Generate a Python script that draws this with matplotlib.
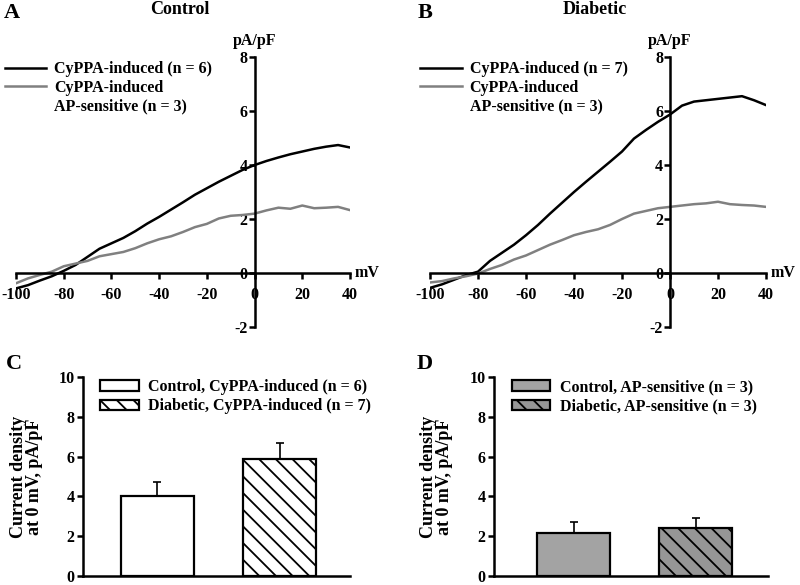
import matplotlib
matplotlib.use("Agg")
import matplotlib.pyplot as plt
from matplotlib.lines import Line2D

plt.rcParams["font.family"] = ["Liberation Serif", "DejaVu Serif"]
plt.rcParams["font.weight"] = "bold"
plt.rcParams["axes.labelweight"] = "bold"
plt.rcParams["axes.unicode_minus"] = False
plt.rcParams["hatch.linewidth"] = 1.3

# -- I-V curves (every 5 mV) --
voltage_mv = [-100, -95, -90, -85, -80, -75, -70, -65, -60, -55, -50, -45, -40, -35, -30,
              -25, -20, -15, -10, -5, 0, 5, 10, 15, 20, 25, 30, 35, 40]

ctrl_cyppa = [-0.57, -0.45, -0.28, -0.12, 0.08, 0.30, 0.60, 0.90, 1.10, 1.30, 1.55, 1.83, 2.08,
              2.35, 2.62, 2.90, 3.14, 3.38, 3.60, 3.82, 4.00, 4.15, 4.28, 4.40, 4.50, 4.60,
              4.68, 4.74, 4.65]
ctrl_ap = [-0.38, -0.20, -0.07, 0.05, 0.25, 0.35, 0.45, 0.62, 0.70, 0.78, 0.92, 1.10, 1.25,
           1.36, 1.52, 1.70, 1.82, 2.02, 2.12, 2.15, 2.20, 2.32, 2.42, 2.38, 2.50, 2.40,
           2.42, 2.45, 2.33]
diab_cyppa = [-0.55, -0.42, -0.25, -0.08, 0.05, 0.45, 0.75, 1.05, 1.40, 1.78, 2.20, 2.60, 3.00,
              3.38, 3.75, 4.12, 4.50, 4.98, 5.30, 5.60, 5.87, 6.20, 6.35, 6.40, 6.45, 6.50,
              6.55, 6.40, 6.22]
diab_ap = [-0.35, -0.30, -0.20, -0.12, -0.02, 0.15, 0.30, 0.50, 0.65, 0.85, 1.05, 1.22, 1.40,
           1.52, 1.62, 1.78, 2.00, 2.20, 2.30, 2.40, 2.45, 2.50, 2.55, 2.58, 2.64, 2.55,
           2.52, 2.50, 2.45]

# -- current density at 0 mV (mean, SEM) --
cyppa_labels = ["Control, CyPPA-induced (n = 6)", "Diabetic, CyPPA-induced (n = 7)"]
cyppa_mean = [4.04, 5.87]
cyppa_sem = [0.67, 0.83]
ap_labels = ["Control, AP-sensitive (n = 3)", "Diabetic, AP-sensitive (n = 3)"]
ap_mean = [2.14, 2.39]
ap_sem = [0.55, 0.53]

BLACK = "#000000"
GREY = "#808080"
FS = 11.5

fig = plt.figure(figsize=(8.0, 5.85), dpi=100)


def iv_panel(rect, black, grey, n_black, letter, title, title_x, leg_x):
    ax = fig.add_axes(rect)
    ax.plot(voltage_mv, black, color=BLACK, lw=1.8)
    ax.plot(voltage_mv, grey, color=GREY, lw=1.8)
    ax.set_xlim(-100, 40)
    ax.set_ylim(-2, 8)
    ax.spines[["top", "right"]].set_visible(False)
    ax.spines["left"].set_position(("data", 0))
    ax.spines["bottom"].set_position(("data", 0))
    for s in ("left", "bottom"):
        ax.spines[s].set_linewidth(1.8)
    ax.set_xticks(range(-100, 41, 20))
    ax.set_yticks(range(-2, 9, 2))
    ax.tick_params(axis="both", direction="out", length=4, width=1.8, labelsize=FS)
    ax.tick_params(axis="x", pad=6)
    ax.tick_params(axis="y", pad=1)
    ax.text(1.015, 0.2, "mV", transform=ax.transAxes, ha="left", va="center", fontsize=FS)
    ax.text(100 / 140, 1.06, "pA/pF", transform=ax.transAxes, ha="center", va="center",
            fontsize=FS)
    fig.text(rect[0] - 0.015, 0.978, letter, fontsize=16, ha="left", va="center")
    fig.text(title_x, 0.983, title, fontsize=13, ha="center", va="center")
    handles = [Line2D([], [], color=BLACK, lw=1.8), Line2D([], [], color=GREY, lw=1.8),
               Line2D([], [], color="none")]
    labels = [f"CyPPA-induced (n = {n_black})", "CyPPA-induced", "AP-sensitive (n = 3)"]
    ax.legend(handles, labels, loc="upper left", bbox_to_anchor=(leg_x, 0.895),
              bbox_transform=fig.transFigure, frameon=False, fontsize=FS,
              handlelength=2.6, handletextpad=0.5, labelspacing=0.15,
              borderpad=0, borderaxespad=0)
    return ax


def bar_panel(rect, means, sems, labels, colors, xlim, letter):
    ax = fig.add_axes(rect)
    hatches = [None, "\\\\"]
    for i in range(2):
        ax.bar(i, means[i], width=0.6, color=colors[i], edgecolor=BLACK, linewidth=1.6,
               hatch=hatches[i], label=labels[i], zorder=2)
    ax.errorbar([0, 1], means, yerr=[[0, 0], sems], fmt="none", ecolor=BLACK,
                elinewidth=1.2, capsize=3, capthick=1.2, zorder=1)
    ax.set_xlim(*xlim)
    ax.set_ylim(0, 10)
    ax.set_xticks([])
    ax.set_yticks(range(0, 11, 2))
    ax.spines[["top", "right"]].set_visible(False)
    for s in ("left", "bottom"):
        ax.spines[s].set_linewidth(1.8)
    ax.tick_params(axis="y", direction="out", length=4, width=1.8, labelsize=FS, pad=2)
    ax.set_ylabel("Current density\nat 0 mV, pA/pF", fontsize=13, fontweight="bold",
                  linespacing=0.95)
    ax.yaxis.set_label_coords(-0.15, 0.5)
    fig.text(rect[0] - 0.097, 0.378, letter, fontsize=16, ha="left", va="center")
    ax.legend(loc="upper left", bbox_to_anchor=(0.065, 0.99), frameon=False, fontsize=FS,
              handlelength=2.4, handleheight=0.6, handletextpad=0.6, labelspacing=0.2,
              borderpad=0, borderaxespad=0)
    return ax


iv_panel([0.02, 0.441, 0.4175, 0.4615], ctrl_cyppa, ctrl_ap, 6, "A", "Control", 0.225, 0.006)
iv_panel([0.5375, 0.441, 0.42, 0.4615], diab_cyppa, diab_ap, 7, "B", "Diabetic", 0.744, 0.525)

bar_panel([0.10375, 0.0154, 0.334, 0.340], cyppa_mean, cyppa_sem, cyppa_labels,
          ["white", "white"], (-0.61, 1.578), "C")
bar_panel([0.6175, 0.0154, 0.3425, 0.340], ap_mean, ap_sem, ap_labels,
          ["#a3a3a3", "#969696"], (-0.652, 1.594), "D")

fig.savefig("out.png", dpi=100)
